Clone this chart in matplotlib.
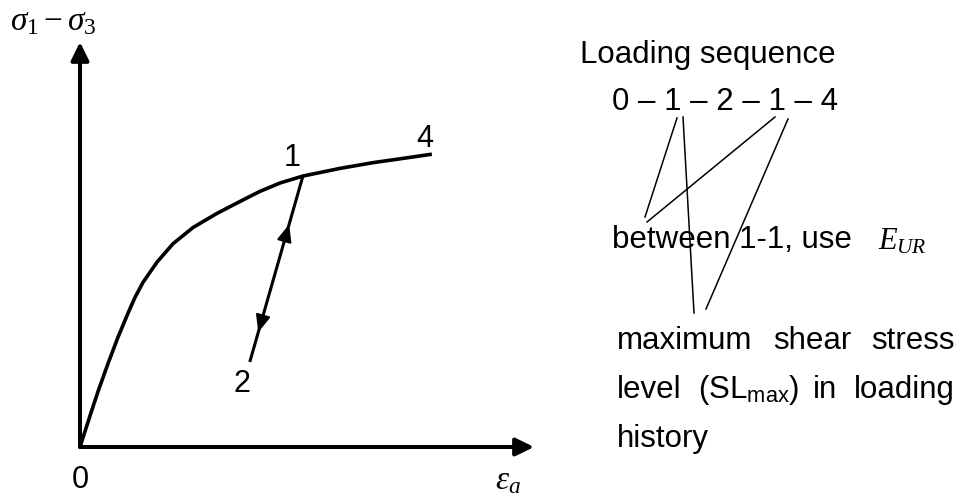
import matplotlib

matplotlib.use("Agg")

import matplotlib.pyplot as plt

plt.rcParams["font.family"] = ["Liberation Sans", "DejaVu Sans"]
plt.rcParams["mathtext.fontset"] = "custom"
plt.rcParams["mathtext.rm"] = "Liberation Serif"
plt.rcParams["mathtext.it"] = "Liberation Serif:italic"
plt.rcParams["mathtext.sf"] = "Liberation Sans"

# loading path (strain, deviator stress), normalised so the axis tips sit at 1.0
strain = [0.0, 0.022, 0.040, 0.062, 0.084, 0.106, 0.121, 0.139, 0.170,
          0.205, 0.249, 0.302, 0.352, 0.396, 0.441, 0.491, 0.573, 0.645,
          0.720, 0.775]
stress = [0.0, 0.077, 0.138, 0.207, 0.272, 0.331, 0.369, 0.407, 0.457,
          0.502, 0.542, 0.577, 0.606, 0.631, 0.652, 0.669, 0.688, 0.702,
          0.714, 0.723]

# unload from point 1 down to point 2 and reload back to 1
unload_strain = [0.491, 0.374]
unload_stress = [0.669, 0.210]

sequence = "0 \u2013 1 \u2013 2 \u2013 1 \u2013 4"
line1 = ["maximum", "shear", "stress"]
line2 = ["level", r"(SL$_{\mathsf{max}}$)", "in", "loading"]
line3 = ["history"]

W, H = 961, 501
fig = plt.figure(figsize=(W / 100, H / 100), dpi=100)

# stress-strain axes: origin at the corner, arrows at the ends
x0, y0, x1, y1 = 80, 447, 534, 42
ax = fig.add_axes([x0 / W, 1 - y0 / H, (x1 - x0) / W, (y0 - y1) / H])
ax.set_xlim(0, 1)
ax.set_ylim(0, 1)
ax.axis("off")

axis_arrow = dict(arrowstyle="-|>,head_length=0.55,head_width=0.27",
                  color="black", lw=2.9, mutation_scale=20,
                  shrinkA=0, shrinkB=0)
ax.annotate("", xy=(1, 0), xytext=(0, 0), arrowprops=axis_arrow,
            annotation_clip=False)
ax.annotate("", xy=(0, 1), xytext=(0, 0), arrowprops=axis_arrow,
            annotation_clip=False)

ax.plot(strain, stress, color="black", lw=2.6, solid_capstyle="butt",
        solid_joinstyle="round", clip_on=False)
ax.plot(unload_strain, unload_stress, color="black", lw=2.2,
        solid_capstyle="butt", clip_on=False)


def along(t):
    return (unload_strain[1] + t * (unload_strain[0] - unload_strain[1]),
            unload_stress[1] + t * (unload_stress[0] - unload_stress[1]))


path_arrow = dict(arrowstyle="-|>,head_length=0.75,head_width=0.32",
                  color="black", lw=1.5, mutation_scale=14,
                  shrinkA=0, shrinkB=0)
# reload arrow (towards 1) and unload arrow (towards 2)
ax.annotate("", xy=along(0.74), xytext=along(0.66), arrowprops=path_arrow)
ax.annotate("", xy=along(0.16), xytext=along(0.24), arrowprops=path_arrow)

label_kw = dict(textcoords="offset points", ha="center", va="center",
                fontsize=22)
ax.annotate("0", (strain[0], stress[0]), xytext=(0, -24), **label_kw)
ax.annotate("1", (unload_strain[0], unload_stress[0]), xytext=(-8, 13),
            **label_kw)
ax.annotate("2", (unload_strain[1], unload_stress[1]), xytext=(-6, -16),
            **label_kw)
ax.annotate("4", (strain[-1], stress[-1]), xytext=(-5, 11), **label_kw)

ax.text(-0.155, 1.03, r"$\sigma_1 - \sigma_3$", fontsize=24,
        transform=ax.transAxes, va="baseline", ha="left")
ax.text(0.915, -0.105, r"$\varepsilon_a$", fontsize=24,
        transform=ax.transAxes, va="baseline", ha="left")

# explanatory notes on the right, laid out in pixel units
ov = fig.add_axes([0, 0, 1, 1])
ov.set_xlim(0, W)
ov.set_ylim(H, 0)
ov.axis("off")

fs = 22.5
ov.text(580, 63, "Loading sequence", fontsize=fs, va="baseline")
ov.text(612, 110, sequence, fontsize=fs, va="baseline")
ov.text(612, 248, "between 1-1, use", fontsize=fs, va="baseline")
ov.text(878, 249, r"$E_{UR}$", fontsize=22, va="baseline")

for word, xl in zip(line1, [617, 773, 955]):
    ov.text(xl, 349, word, fontsize=fs, va="baseline",
            ha="right" if word == line1[-1] else "left")
for word, xl in zip(line2, [617, 698, 813, 955]):
    ov.text(xl, 398, word, fontsize=fs, va="baseline",
            ha="right" if word == line2[-1] else "left")
ov.text(617, 447, line3[0], fontsize=fs, va="baseline")

links = [((677, 118), (645, 217)), ((775, 117), (647, 222)),
         ((683, 117), (694, 313)), ((788, 119), (706, 309))]
for (xa, ya), (xb, yb) in links:
    ov.plot([xa, xb], [ya, yb], color="black", lw=1.1)

fig.savefig("out.png", dpi=100)
plt.close(fig)
